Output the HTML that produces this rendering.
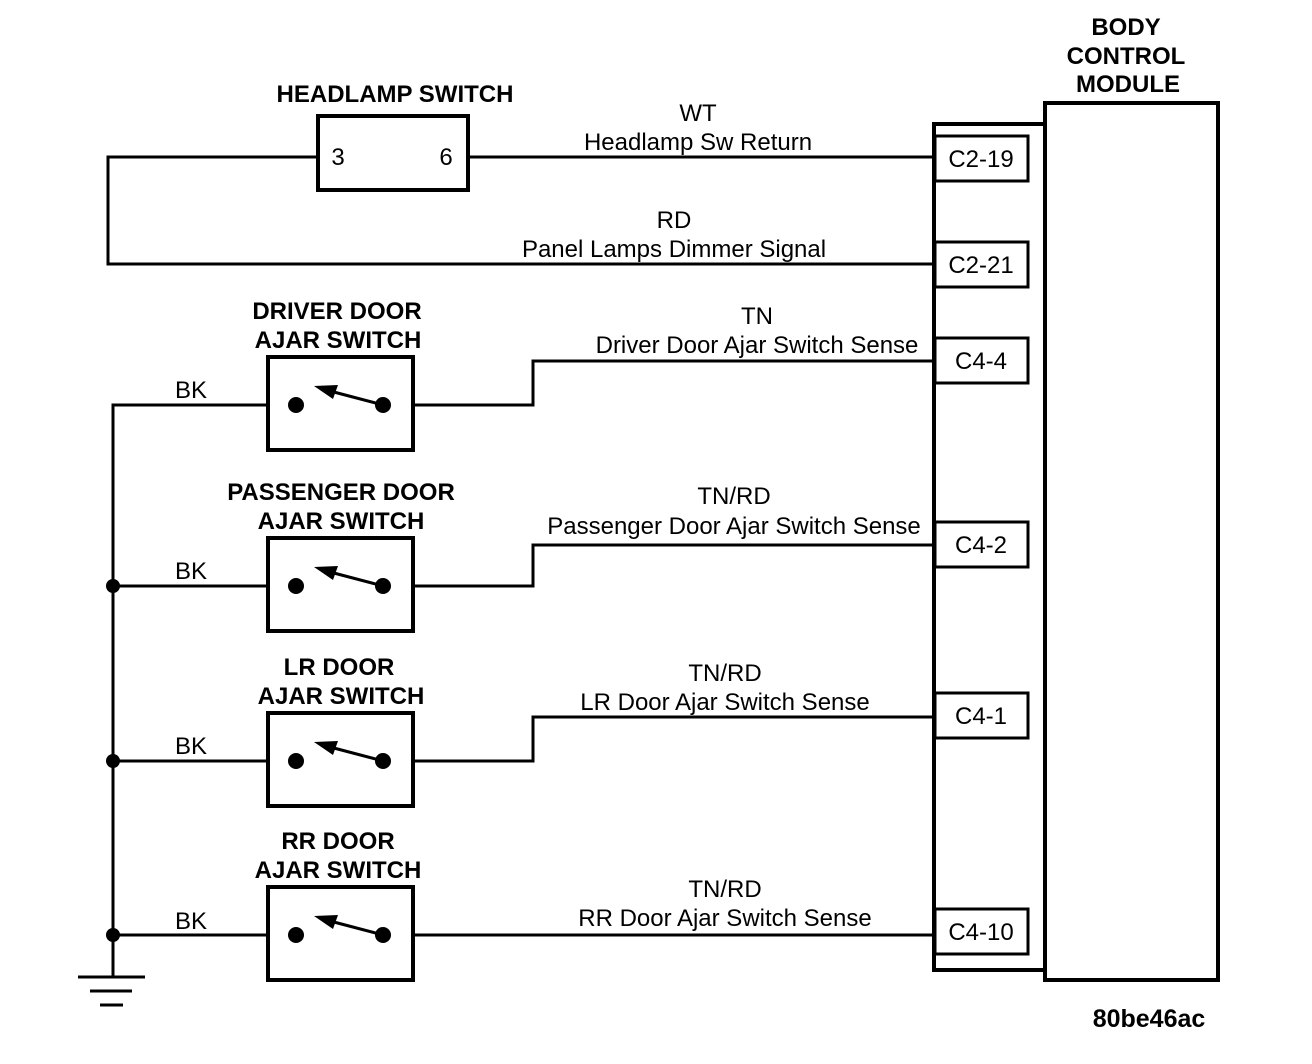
<!DOCTYPE html>
<html><head><meta charset="utf-8"><style>
html,body{margin:0;padding:0;background:#fff;}
svg{display:block;}
text{font-family:"Liberation Sans",sans-serif;fill:#000;}
.t{font-size:24px;}
.b{font-size:24px;font-weight:bold;}
</style></head><body>
<svg width="1312" height="1064" viewBox="0 0 1312 1064" xmlns="http://www.w3.org/2000/svg">
<defs>
<g id="sw">
<rect x="268" y="0" width="145" height="93" fill="none" stroke="#000" stroke-width="4"/>
<circle cx="296" cy="48" r="8"/>
<circle cx="383" cy="48" r="8"/>
<line x1="383" y1="48" x2="330" y2="34" stroke="#000" stroke-width="3"/>
<polygon points="314,29 338,28 333,42"/>
</g>
</defs>
<g stroke="#000" fill="none">
<rect x="1045" y="103" width="173" height="877" stroke-width="4"/>
<rect x="934" y="124" width="111" height="846" stroke-width="4"/>
<g stroke-width="3">
<rect x="935" y="136" width="93" height="45"/>
<rect x="935" y="242" width="93" height="45"/>
<rect x="935" y="338" width="93" height="45"/>
<rect x="935" y="522" width="93" height="45"/>
<rect x="935" y="693" width="93" height="45"/>
<rect x="935" y="909" width="93" height="45"/>
</g>
<rect x="318" y="116" width="150" height="74" stroke-width="4"/>
<g stroke-width="3">
<polyline points="318,157 108,157 108,264 934,264"/>
<line x1="468" y1="157" x2="934" y2="157"/>
<polyline points="413,405 533,405 533,361 934,361"/>
<polyline points="413,586 533,586 533,545 934,545"/>
<polyline points="413,761 533,761 533,717 934,717"/>
<line x1="413" y1="935" x2="934" y2="935"/>
<polyline points="268,405 113,405 113,977"/>
<line x1="113" y1="586" x2="268" y2="586"/>
<line x1="113" y1="761" x2="268" y2="761"/>
<line x1="113" y1="935" x2="268" y2="935"/>
</g>
<g stroke-width="3">
<line x1="78" y1="977" x2="145" y2="977"/>
<line x1="90" y1="991" x2="132" y2="991"/>
<line x1="100" y1="1005" x2="123" y2="1005"/>
</g>
</g>
<circle cx="113" cy="586" r="7"/>
<circle cx="113" cy="761" r="7"/>
<circle cx="113" cy="935" r="7"/>
<use href="#sw" transform="translate(0,357)"/>
<use href="#sw" transform="translate(0,538)"/>
<use href="#sw" transform="translate(0,713)"/>
<use href="#sw" transform="translate(0,887)"/>
<g class="b" text-anchor="middle">
<text x="1126" y="35">BODY</text>
<text x="1126" y="64">CONTROL</text>
<text x="1128" y="92">MODULE</text>
<text x="395" y="102">HEADLAMP SWITCH</text>
<text x="337" y="319">DRIVER DOOR</text>
<text x="338" y="348">AJAR SWITCH</text>
<text x="341" y="500">PASSENGER DOOR</text>
<text x="341" y="529">AJAR SWITCH</text>
<text x="339" y="675">LR DOOR</text>
<text x="341" y="704">AJAR SWITCH</text>
<text x="338" y="849">RR DOOR</text>
<text x="338" y="878">AJAR SWITCH</text>
<text x="1149" y="1027" font-size="25">80be46ac</text>
</g>
<g class="t" text-anchor="middle">
<text x="338" y="165">3</text>
<text x="446" y="165">6</text>
<text x="698" y="121">WT</text>
<text x="698" y="150">Headlamp Sw Return</text>
<text x="674" y="228">RD</text>
<text x="674" y="257">Panel Lamps Dimmer Signal</text>
<text x="757" y="324">TN</text>
<text x="757" y="353">Driver Door Ajar Switch Sense</text>
<text x="734" y="504">TN/RD</text>
<text x="734" y="534">Passenger Door Ajar Switch Sense</text>
<text x="725" y="681">TN/RD</text>
<text x="725" y="710">LR Door Ajar Switch Sense</text>
<text x="725" y="897">TN/RD</text>
<text x="725" y="926">RR Door Ajar Switch Sense</text>
<text x="981" y="167">C2-19</text>
<text x="981" y="273">C2-21</text>
<text x="981" y="369">C4-4</text>
<text x="981" y="553">C4-2</text>
<text x="981" y="724">C4-1</text>
<text x="981" y="940">C4-10</text>
<text x="191" y="398">BK</text>
<text x="191" y="579">BK</text>
<text x="191" y="754">BK</text>
<text x="191" y="929">BK</text>
</g>
</svg>
</body></html>
